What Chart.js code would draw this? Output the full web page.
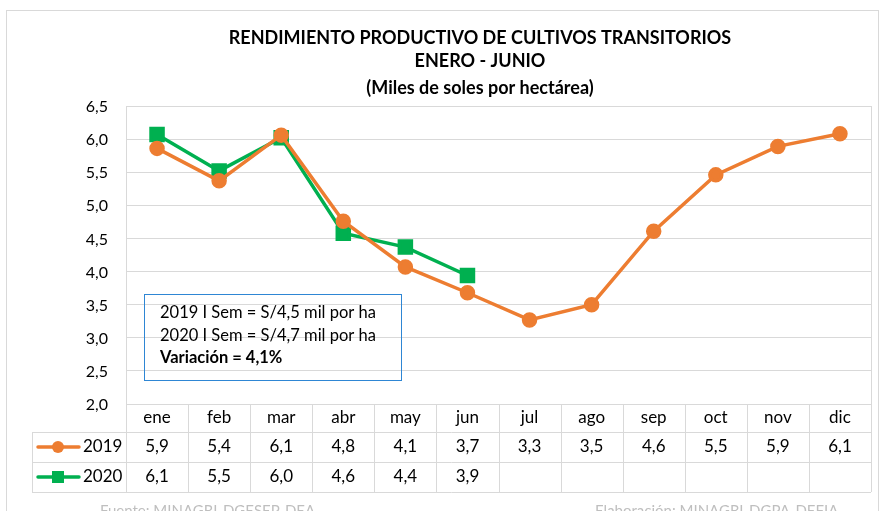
<!DOCTYPE html>
<html>
<head>
<meta charset="utf-8">
<script src="https://cdn.jsdelivr.net/npm/chart.js@4.4.1/dist/chart.umd.min.js"></script>
<style>
  body { margin: 0; background: #fff; }
  canvas { display: block; }
</style>
</head>
<body>
<canvas id="grafico" width="883" height="511"></canvas>
<script>
// Datos del grafico
const meses = ["ene", "feb", "mar", "abr", "may", "jun", "jul", "ago", "sep", "oct", "nov", "dic"];
const rend2019 = [5.86, 5.37, 6.06, 4.76, 4.07, 3.68, 3.27, 3.5, 4.61, 5.46, 5.89, 6.08];
const rend2020 = [6.07, 5.52, 6.02, 4.58, 4.37, 3.94];
const titulo = ["RENDIMIENTO PRODUCTIVO DE CULTIVOS TRANSITORIOS", "ENERO - JUNIO", "(Miles de soles por hectárea)"];
const notas = ["2019 I Sem = S/4,5 mil por ha", "2020 I Sem = S/4,7 mil por ha", "Variación = 4,1%"];

const NARANJA = "#ED7D31";
const VERDE = "#00B050";
const GRIS = "#d9d9d9";
const FUENTE = "Lato, 'Open Sans', sans-serif";

const fmt = v => v.toFixed(1).replace(".", ",");

// Titulo, marco, tabla de datos y cuadro de texto
const extras = {
  id: "extras",
  beforeDraw(chart) {
    const ctx = chart.ctx;
    ctx.save();
    ctx.fillStyle = "#fff";
    ctx.fillRect(0, 0, chart.width, chart.height);
    ctx.strokeStyle = GRIS;
    ctx.lineWidth = 1;
    ctx.strokeRect(6.5, 10.5, 872, 520);
    ctx.fillStyle = "#000";
    ctx.font = "bold 18px " + FUENTE;
    ctx.textAlign = "center";
    ctx.textBaseline = "middle";
    const ys = [38, 61, 88];
    titulo.forEach((t, i) => ctx.fillText(t, 480, ys[i]));
    ctx.restore();
  },
  afterDraw(chart) {
    const ctx = chart.ctx;
    const x = chart.scales.x;
    const area = chart.chartArea;
    const colW = (area.right - area.left) / meses.length;
    const filas = [area.bottom, area.bottom + 28, area.bottom + 58, area.bottom + 88];
    const izq = 32;

    ctx.save();
    ctx.strokeStyle = GRIS;
    ctx.lineWidth = 1;
    ctx.beginPath();
    // borde derecho del area
    ctx.moveTo(area.right + 0.5, area.top);
    ctx.lineTo(area.right + 0.5, filas[3]);
    // lineas horizontales de la tabla
    ctx.moveTo(area.left, filas[0] + 0.5); ctx.lineTo(area.right, filas[0] + 0.5);
    for (let i = 1; i < 4; i++) {
      ctx.moveTo(izq, Math.round(filas[i]) + 0.5);
      ctx.lineTo(area.right, Math.round(filas[i]) + 0.5);
    }
    // lineas verticales
    ctx.moveTo(izq + 0.5, filas[1]); ctx.lineTo(izq + 0.5, filas[3]);
    for (let k = 0; k < meses.length; k++) {
      const xx = Math.round(area.left + colW * k) + 0.5;
      ctx.moveTo(xx, filas[0]); ctx.lineTo(xx, filas[3]);
    }
    ctx.stroke();

    ctx.fillStyle = "#000";
    ctx.font = "17px " + FUENTE;
    ctx.textAlign = "center";
    ctx.textBaseline = "middle";
    meses.forEach((m, i) => {
      const cx = x.getPixelForValue(i);
      ctx.fillText(m, cx, (filas[0] + filas[1]) / 2);
      if (rend2019[i] != null) ctx.fillText(fmt(rend2019[i]), cx, (filas[1] + filas[2]) / 2);
      if (rend2020[i] != null) ctx.fillText(fmt(rend2020[i]), cx, (filas[2] + filas[3]) / 2);
    });

    // claves de leyenda
    const claves = [
      { y: (filas[1] + filas[2]) / 2, color: NARANJA, txt: "2019", forma: "circle" },
      { y: (filas[2] + filas[3]) / 2, color: VERDE, txt: "2020", forma: "rect" }
    ];
    claves.forEach(c => {
      ctx.strokeStyle = c.color;
      ctx.fillStyle = c.color;
      ctx.lineWidth = 3.5;
      ctx.lineCap = "round";
      ctx.beginPath();
      ctx.moveTo(38, c.y); ctx.lineTo(79, c.y);
      ctx.stroke();
      if (c.forma === "circle") {
        ctx.beginPath(); ctx.arc(58, c.y, 6, 0, Math.PI * 2); ctx.fill();
      } else {
        ctx.fillRect(52, c.y - 6, 12, 12);
      }
      ctx.fillStyle = "#000";
      ctx.textAlign = "left";
      ctx.fillText(c.txt, 83, c.y);
    });

    // cuadro de texto
    ctx.strokeStyle = "#2E86D4";
    ctx.lineWidth = 1;
    ctx.strokeRect(144.5, 294.5, 257, 86);
    ctx.fillStyle = "#000";
    ctx.textAlign = "left";
    ctx.font = "16.5px " + FUENTE;
    ctx.fillText(notas[0], 160, 313);
    ctx.fillText(notas[1], 160, 336);
    ctx.font = "bold 16.5px " + FUENTE;
    ctx.fillText(notas[2], 160, 358);

    // fuentes
    ctx.fillStyle = "#bfbfbf";
    ctx.font = "15px " + FUENTE;
    ctx.fillText("Fuente: MINAGRI-DGESEP-DEA", 100, 511);
    ctx.fillText("Elaboración: MINAGRI-DGPA-DEFIA", 595, 511);
    ctx.restore();
  }
};

new Chart(document.getElementById("grafico"), {
  type: "line",
  data: {
    labels: meses,
    datasets: [
      {
        label: "2019",
        data: rend2019,
        borderColor: NARANJA,
        backgroundColor: NARANJA,
        borderWidth: 3.5,
        pointStyle: "circle",
        pointRadius: 6,
        tension: 0
      },
      {
        label: "2020",
        data: rend2020,
        borderColor: VERDE,
        backgroundColor: VERDE,
        borderWidth: 3.5,
        pointStyle: "rect",
        pointRadius: 8.5,
        tension: 0
      }
    ]
  },
  options: {
    responsive: false,
    animation: false,
    layout: { padding: { left: 0, top: 106, right: 7, bottom: 107 } },
    plugins: {
      legend: { display: false },
      title: { display: false },
      tooltip: { enabled: false }
    },
    scales: {
      x: { display: false, offset: true },
      y: {
        min: 2,
        max: 6.5,
        afterFit: s => { s.width = 126; },
        ticks: {
          stepSize: 0.5,
          padding: 18,
          labelOffset: 1,
          color: "#000",
          font: { family: FUENTE, size: 16 },
          callback: v => fmt(v)
        },
        grid: { color: GRIS, drawTicks: false },
        border: { color: GRIS }
      }
    }
  },
  plugins: [extras]
});
</script>
</body>
</html>
